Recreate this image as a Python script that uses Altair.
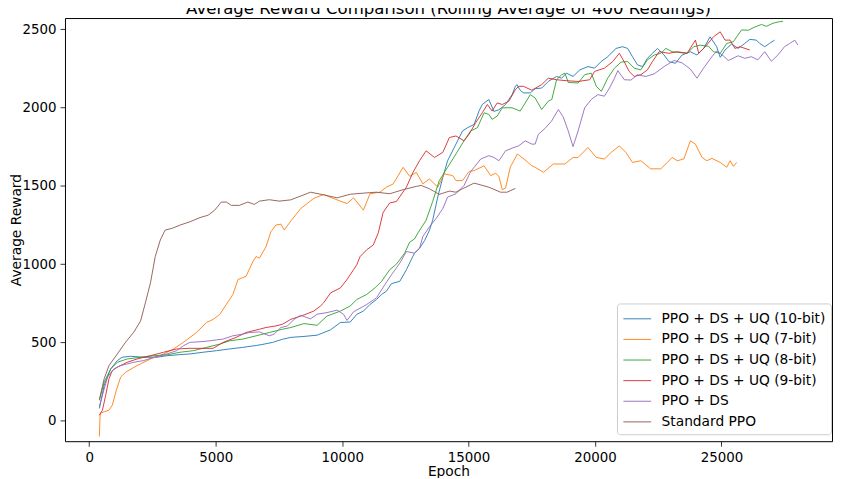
import altair as alt
import pandas as pd

series_names = [
    "PPO + DS + UQ (10-bit)",
    "PPO + DS + UQ (7-bit)",
    "PPO + DS + UQ (8-bit)",
    "PPO + DS + UQ (9-bit)",
    "PPO + DS",
    "Standard PPO",
]
colors = ["#1f77b4", "#ff7f0e", "#2ca02c", "#d62728", "#9467bd", "#8c564b"]

x_ticks = [0, 5000, 10000, 15000, 20000, 25000]
y_ticks = [0, 500, 1000, 1500, 2000, 2500]

# (epoch, rolling-average reward)
uq10 = [(400, 78), (590, 225), (850, 331), (1110, 384), (1300, 405), (1630, 411), (2150, 405), (2680, 405),
        (3070, 415), (3590, 422), (3980, 426), (4500, 437), (5030, 447), (5550, 458), (6070, 468), (6600, 480),
        (6920, 489), (7250, 500), (7640, 520), (7970, 532), (8490, 538), (9010, 546), (9540, 580), (9930, 627),
        (10320, 630), (10580, 679), (10840, 700), (11100, 742), (11360, 774), (11560, 806), (11750, 827),
        (11950, 875), (12280, 890), (12540, 964), (12730, 1027), (12860, 1070), (13060, 1101), (13260, 1150),
        (13450, 1215), (13580, 1280), (13780, 1428), (13980, 1554), (14170, 1660), (14500, 1766), (14760, 1850),
        (14960, 1871), (15220, 1892), (15410, 1977), (15540, 2019), (15800, 2051), (16000, 1975), (16200, 1985),
        (16460, 2019), (16720, 2082), (16850, 2135), (16910, 2146), (17040, 2110), (17170, 2093), (17440, 2093),
        (17630, 2120), (17890, 2124), (18150, 2166), (18480, 2198), (18680, 2187), (18870, 2219), (19130, 2198),
        (19400, 2240), (19720, 2261), (19980, 2251), (20240, 2293), (20500, 2324), (20830, 2377), (21090, 2388),
        (21290, 2377), (21480, 2324), (21680, 2272), (21880, 2261), (22070, 2314), (22270, 2346), (22470, 2377),
        (22730, 2335), (22920, 2293), (23180, 2282), (23440, 2335), (23770, 2356), (24030, 2335), (24290, 2377),
        (24550, 2451), (24810, 2388), (24950, 2320), (25140, 2367), (25400, 2405), (25660, 2377), (25920, 2409),
        (26120, 2435), (26380, 2430), (26510, 2409), (26710, 2388), (26900, 2409), (27100, 2430)]

uq7 = [(400, -101), (430, 46), (590, 57), (780, 67), (910, 99), (1050, 183), (1240, 278), (1440, 310),
       (1890, 352), (2420, 394), (2940, 426), (3330, 458), (3720, 500), (4240, 563), (4640, 627), (4900, 647),
       (5160, 679), (5420, 742), (5680, 806), (5880, 901), (6200, 922), (6470, 1016), (6600, 1048), (6730, 1038),
       (6990, 1111), (7180, 1206), (7380, 1249), (7580, 1255), (7710, 1217), (7970, 1275), (8360, 1354),
       (8880, 1420), (9270, 1444), (9670, 1418), (10190, 1386), (10450, 1423), (10840, 1344), (11100, 1449),
       (11490, 1459), (11750, 1491), (12020, 1512), (12410, 1618), (12670, 1560), (12930, 1586), (13190, 1512),
       (13450, 1544), (13780, 1491), (14040, 1576), (14370, 1565), (14500, 1533), (14760, 1533), (15020, 1592),
       (15220, 1597), (15610, 1628), (15870, 1565), (16070, 1580), (16200, 1560), (16330, 1475), (16460, 1485),
       (16650, 1620), (16930, 1703), (17270, 1660), (17500, 1628), (17630, 1618), (17960, 1586), (18350, 1639),
       (18810, 1639), (19130, 1681), (19330, 1681), (19720, 1744), (20050, 1681), (20370, 1671), (20640, 1713),
       (20960, 1755), (21220, 1713), (21480, 1649), (21810, 1660), (22200, 1608), (22600, 1608), (22860, 1649),
       (23050, 1681), (23250, 1660), (23510, 1671), (23770, 1787), (23970, 1766), (24230, 1681), (24420, 1660),
       (24620, 1675), (24950, 1649), (25210, 1618), (25340, 1660), (25470, 1624), (25600, 1649)]

uq8 = [(400, 130), (590, 247), (850, 331), (1110, 373), (1500, 394), (2030, 405), (2550, 415), (3070, 420),
       (3590, 437), (4110, 447), (4640, 468), (5160, 489), (5550, 510), (6070, 521), (6600, 542), (7120, 563),
       (7640, 584), (7970, 595), (8490, 620), (9010, 609), (9400, 668), (9930, 700), (10320, 732), (10580, 774),
       (10970, 806), (11300, 848), (11560, 890), (11880, 964), (12150, 1000), (12470, 1070), (12670, 1140),
       (12860, 1160), (13000, 1200), (13320, 1280), (13580, 1400), (13840, 1533), (14170, 1618), (14500, 1703),
       (14820, 1787), (15080, 1850), (15350, 1871), (15610, 1966), (15800, 1956), (15930, 1924), (16130, 1945),
       (16330, 1998), (16720, 1998), (17040, 1977), (17240, 2029), (17440, 2082), (17630, 2061), (17890, 1987),
       (18150, 2040), (18290, 2051), (18480, 2177), (18680, 2209), (18810, 2219), (18940, 2160), (19330, 2156),
       (19590, 2209), (19850, 2219), (20050, 2135), (20250, 2103), (20500, 2187), (20770, 2251), (21030, 2290),
       (21290, 2293), (21550, 2251), (21810, 2240), (22070, 2304), (22340, 2335), (22600, 2346), (22800, 2377),
       (23050, 2356), (23250, 2352), (23640, 2346), (23900, 2388), (24160, 2398), (24490, 2390), (24680, 2356),
       (24950, 2346), (25210, 2409), (25470, 2420), (25790, 2495), (26060, 2493), (26320, 2514), (26580, 2530),
       (26770, 2518), (27040, 2538), (27300, 2548), (27430, 2550)]

uq9 = [(400, 35), (520, 67), (650, 162), (780, 268), (910, 320), (1110, 342), (1500, 373), (1890, 394),
       (2420, 415), (2940, 437), (3460, 458), (3980, 462), (4500, 462), (4900, 462), (5290, 500), (5810, 532),
       (6200, 563), (6730, 584), (6990, 595), (7380, 605), (7640, 616), (7970, 647), (8490, 675), (8880, 700),
       (9140, 732), (9270, 753), (9540, 816), (9930, 848), (10190, 901), (10450, 964), (10580, 996),
       (10710, 1048), (10970, 1091), (11230, 1122), (11430, 1200), (11620, 1330), (11880, 1390), (12150, 1400),
       (12540, 1491), (12800, 1585), (13060, 1660), (13320, 1723), (13650, 1681), (13980, 1713), (14240, 1808),
       (14500, 1818), (14820, 1787), (15020, 1829), (15280, 1903), (15540, 1966), (15740, 2019), (15930, 1977),
       (16130, 2029), (16330, 2019), (16590, 2040), (16850, 2114), (16980, 2135), (17170, 2135), (17500, 2110),
       (17890, 2146), (18150, 2187), (18480, 2177), (18870, 2171), (19330, 2166), (19790, 2177), (19980, 2230),
       (20370, 2251), (20700, 2293), (20960, 2346), (21160, 2290), (21350, 2230), (21550, 2198), (21810, 2209),
       (22070, 2240), (22270, 2293), (22530, 2356), (22920, 2346), (23250, 2356), (23640, 2346), (23970, 2430),
       (24100, 2346), (24360, 2388), (24680, 2451), (24950, 2483), (25140, 2430), (25340, 2430), (25530, 2377),
       (25730, 2388), (25930, 2377), (26120, 2367)]

ppo_ds = [(400, 90), (520, 162), (720, 278), (980, 331), (1240, 352), (1760, 373), (2160, 384), (2550, 405),
          (3070, 426), (3460, 447), (3720, 478), (3980, 500), (4380, 504), (4770, 510), (5030, 516), (5290, 521),
          (5680, 542), (6070, 553), (6340, 563), (6730, 567), (7120, 542), (7310, 553), (7580, 595), (7840, 605),
          (8100, 647), (8360, 673), (8750, 650), (9010, 680), (9400, 690), (9800, 706), (10060, 679),
          (10190, 640), (10450, 695), (10970, 742), (11360, 785), (11690, 869), (11950, 932), (12280, 1006),
          (12540, 1080), (12860, 1070), (13060, 1101), (13190, 1175), (13450, 1238), (13710, 1290),
          (13980, 1354), (14170, 1428), (14500, 1449), (14820, 1502), (15080, 1590), (15480, 1671),
          (15800, 1692), (16000, 1681), (16200, 1660), (16460, 1723), (16720, 1740), (16980, 1755),
          (17240, 1787), (17500, 1766), (17630, 1766), (17760, 1829), (18020, 1866), (18280, 1913),
          (18550, 1987), (18740, 1940), (18940, 1850), (19130, 1750), (19330, 1850), (19590, 1998),
          (19850, 2051), (20110, 2082), (20370, 2072), (20570, 2124), (20770, 2187), (20900, 2235),
          (21160, 2177), (21420, 2175), (21680, 2209), (22010, 2198), (22340, 2215), (22730, 2261),
          (23120, 2300), (23440, 2285), (23770, 2245), (24030, 2187), (24290, 2251), (24620, 2324),
          (24810, 2360), (25070, 2330), (25270, 2300), (25660, 2330), (25920, 2314), (26180, 2324),
          (26440, 2304), (26710, 2356), (26970, 2295), (27230, 2335), (27490, 2388), (27700, 2409),
          (27900, 2430), (28020, 2398)]

standard = [(400, 135), (590, 268), (780, 352), (1110, 426), (1440, 502), (1760, 565), (2030, 637), (2220, 753),
            (2420, 880), (2610, 1048), (2810, 1154), (3000, 1217), (3270, 1228), (3590, 1249), (3980, 1270),
            (4380, 1297), (4700, 1312), (4960, 1344), (5220, 1396), (5420, 1396), (5620, 1375), (5940, 1375),
            (6270, 1396), (6530, 1381), (6730, 1402), (7120, 1411), (7510, 1402), (7970, 1410), (8750, 1459),
            (9270, 1442), (9800, 1423), (10320, 1446), (10840, 1453), (11360, 1459), (11880, 1449),
            (12410, 1475), (12930, 1496), (13130, 1502), (13450, 1481), (13840, 1445), (14240, 1466),
            (14500, 1459), (14760, 1481), (15220, 1517), (15800, 1491), (16260, 1459), (16520, 1459),
            (16850, 1483)]

all_series = [uq10, uq7, uq8, uq9, ppo_ds, standard]

rows = []
for name, pts in zip(series_names, all_series):
    for e, v in pts:
        rows.append({"series": name, "epoch": e, "reward": v})
df = pd.DataFrame(rows)

FONT = "DejaVu Sans"

color = alt.Color(
    "series:N",
    title=None,
    scale=alt.Scale(domain=series_names, range=colors),
    legend=alt.Legend(
        orient="none",
        legendX=557,
        legendY=288,
        symbolType="M-1.4,0H1.4",
        symbolSize=400,
        symbolStrokeWidth=1,
        symbolOffset=5,
        labelOffset=14,
        labelFont=FONT,
        labelFontSize=13.9,
        labelColor="black",
        labelLimit=400,
        padding=5,
        rowPadding=2.8,
        strokeColor="#cccccc",
        fillColor="rgba(255,255,255,0.8)",
        cornerRadius=3,
    ),
)

x = alt.X(
    "epoch:Q",
    scale=alt.Scale(domain=[-960, 29370], nice=False, zero=False),
    axis=alt.Axis(values=x_ticks, format="d", title="Epoch", titlePadding=1),
)
y = alt.Y(
    "reward:Q",
    scale=alt.Scale(domain=[-131, 2571], nice=False, zero=False),
    axis=alt.Axis(values=y_ticks, format="d", title="Average Reward", titleX=-42),
)

layers = [
    alt.Chart(df)
    .transform_filter(alt.datum.series == name)
    .mark_line(strokeWidth=1, opacity=0.9)
    .encode(x=x, y=y, color=color, order="epoch:Q")
    for name in series_names
]

chart = (
    alt.layer(*layers)
    .properties(
        width=774,
        height=427,
        autosize=alt.AutoSizeParams(type="none"),
        padding={"left": 57.5, "right": 1, "top": 8, "bottom": 35},
        title=alt.TitleParams(
            "Average Reward Comparison (Rolling Average of 400 Readings)",
            font=FONT,
            fontSize=16.7,
            fontWeight="normal",
            color="black",
            anchor="middle",
            baseline="alphabetic",
            offset=3,
            dy=16,
        ),
    )
    .configure_view(stroke="black", strokeWidth=1)
    .configure_axis(
        labelFont=FONT,
        labelFontSize=13.5,
        labelColor="black",
        tickColor="black",
        tickSize=5,
        tickWidth=0.8,
        labelPadding=4,
        domain=False,
        grid=False,
        titleFont=FONT,
        titleFontSize=13.9,
        titleFontWeight="normal",
        titleColor="black",
    )
)

chart.save("out.html", embed_options={"renderer": "svg", "actions": False})
